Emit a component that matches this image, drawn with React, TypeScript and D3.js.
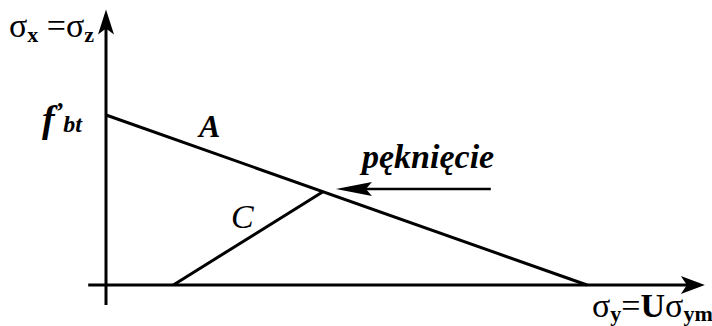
import React from "react";
import * as d3 from "d3";

// Stress-state diagram: lateral stress vs. vertical stress
const W = 712;
const H = 326;

// Axis extents in diagram units
const xAxisRange = [-0.037, 1.245];
const yAxisRange = [-0.118, 1.62];

// Line A: tensile limit, from f'bt on the vertical axis to the horizontal axis
const lineA: [number, number][] = [
  [0, 1.0],
  [1.0, 0],
];
// Line C: loading path, rising until it meets line A (cracking)
const lineC: [number, number][] = [
  [0.14, 0],
  [0.451, 0.549],
];
// Arrow pointing at the cracking point
const crackArrow: [number, number][] = [
  [0.8, 0.565],
  [0.478, 0.565],
];

const txt = { fontFamily: "Liberation Serif" };

export default function App() {
  const x = d3.scaleLinear().domain([0, 1]).range([106, 587]);
  const y = d3.scaleLinear().domain([0, 1]).range([285, 115]);
  const line = d3
    .line<[number, number]>()
    .x((d) => x(d[0]))
    .y((d) => y(d[1]));

  const x0 = x(0);
  const y0 = y(0);
  const xEnd = x(xAxisRange[1]);
  const yTop = y(yAxisRange[1]);

  const tip = crackArrow[1];
  const tipX = x(tip[0]);
  const tipY = y(tip[1]);

  return (
    <svg
      width={W}
      height={H}
      style={{ position: "absolute", left: 0, top: 0, background: "#fff" }}
    >
      {/* axes */}
      <line x1={x(xAxisRange[0])} y1={y0} x2={xEnd - 14} y2={y0} stroke="#000" strokeWidth={3} />
      <line x1={x0} y1={y(yAxisRange[0])} x2={x0} y2={yTop + 14} stroke="#000" strokeWidth={3} />
      <path
        d={`M${xEnd},${y0} L${xEnd - 24},${y0 - 9} L${xEnd - 18},${y0} L${xEnd - 24},${y0 + 9} Z`}
        fill="#000"
      />
      <path
        d={`M${x0},${yTop} L${x0 - 8},${yTop + 25} L${x0},${yTop + 19} L${x0 + 8},${yTop + 25} Z`}
        fill="#000"
      />

      {/* lines A and C */}
      <path d={line(lineA) ?? ""} fill="none" stroke="#000" strokeWidth={3} />
      <path d={line(lineC) ?? ""} fill="none" stroke="#000" strokeWidth={3} />

      {/* crack arrow */}
      <line
        x1={x(crackArrow[0][0])}
        y1={y(crackArrow[0][1])}
        x2={tipX + 20}
        y2={tipY}
        stroke="#000"
        strokeWidth={2.5}
      />
      <path
        d={`M${tipX},${tipY} L${tipX + 36},${tipY - 7} L${tipX + 30},${tipY} L${tipX + 36},${tipY + 7} Z`}
        fill="#000"
      />

      {/* labels */}
      <text style={txt} x={199} y={137} fontSize={32} fontStyle="italic" fontWeight="bold">A</text>
      <text style={txt} x={231} y={228} fontSize={34} fontStyle="italic">C</text>
      <text style={txt} x={362} y={168} fontSize={34} fontStyle="italic" fontWeight="bold">pęknięcie</text>

      {/* vertical axis label */}
      <text style={txt} x={9} y={37} fontSize={34}>
        σ<tspan fontSize={22} fontWeight="bold" dy={5}>x</tspan>
        <tspan dy={-5}> =σ</tspan>
        <tspan fontSize={22} fontWeight="bold" dy={5}>z</tspan>
      </text>

      {/* f'bt */}
      <text style={txt} x={42} y={132} fontSize={38} fontStyle="italic" fontWeight="bold">
        f<tspan fontSize={26} dy={-12}>’</tspan>
        <tspan fontSize={24} dy={12}>bt</tspan>
      </text>

      {/* horizontal axis label */}
      <text style={txt} x={592} y={317} fontSize={34}>
        σ<tspan fontSize={22} fontWeight="bold" dy={4}>y</tspan>
        <tspan dy={-4}>=</tspan>
        <tspan fontWeight="bold">U</tspan>σ
        <tspan fontSize={22} fontWeight="bold" dy={4}>ym</tspan>
      </text>
    </svg>
  );
}
